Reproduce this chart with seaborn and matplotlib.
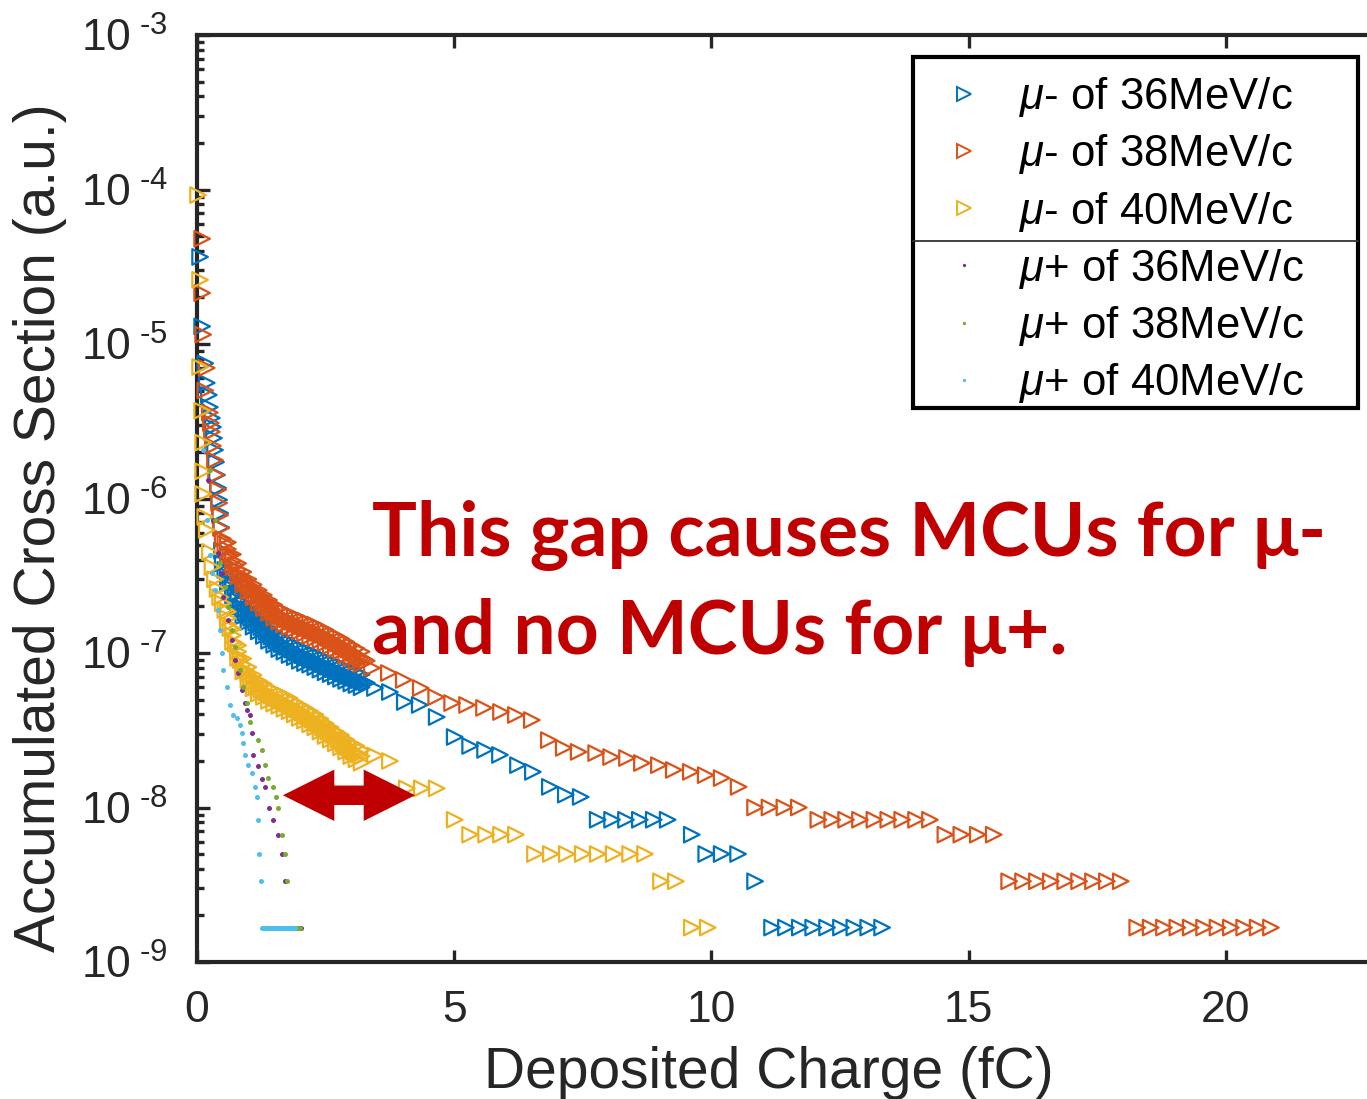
import numpy as np
import pandas as pd
import matplotlib
matplotlib.use("Agg")
import matplotlib.pyplot as plt
from matplotlib.lines import Line2D
from matplotlib.patches import Rectangle
from matplotlib.ticker import LogLocator, NullFormatter
import seaborn as sns

# ---------------- data ----------------
# mu- 36 MeV/c (blue)
mm36_x_near = [0.06, 0.10, 0.16, 0.19, 0.23, 0.25, 0.29, 0.31, 0.33, 0.35, 0.37, 0.39, 0.41, 0.43, 0.45, 0.47, 0.485]
mm36_y_near = [3.66e-5, 1.3e-5, 7.5e-6, 5.6e-6, 4.68e-6, 3.9e-6, 3.32e-6, 2.9e-6, 2.46e-6, 2.06e-6, 1.72e-6,
               1.42e-6, 1.17e-6, 9.8e-7, 8.05e-7, 6.5e-7, 4.6e-7]
mm36_x_dense = [0.50, 0.55, 0.60, 0.65, 0.70, 0.75, 0.80, 0.85, 0.90, 0.95, 1.00, 1.05, 1.10, 1.15, 1.20, 1.25,
                1.30, 1.35, 1.40, 1.45, 1.50, 1.55, 1.60, 1.65, 1.70, 1.75, 1.80, 1.85, 1.90, 1.95, 2.00, 2.05,
                2.10, 2.15, 2.20, 2.25, 2.30, 2.35, 2.40, 2.45, 2.50, 2.55, 2.60, 2.65, 2.70, 2.75, 2.80, 2.85,
                2.90, 2.95, 3.00, 3.05, 3.10, 3.15, 3.20, 3.25, 3.30]
mm36_y_dense = [3.8e-7, 3.45e-7, 3.15e-7, 2.85e-7, 2.6e-7, 2.38e-7, 2.18e-7, 2.0e-7, 1.9e-7, 1.82e-7, 1.75e-7,
                1.69e-7, 1.63e-7, 1.57e-7, 1.52e-7, 1.47e-7, 1.42e-7, 1.37e-7, 1.32e-7, 1.28e-7, 1.24e-7, 1.20e-7,
                1.17e-7, 1.14e-7, 1.12e-7, 1.095e-7, 1.07e-7, 1.05e-7, 1.03e-7, 1.0e-7, 9.8e-8, 9.65e-8, 9.5e-8,
                9.35e-8, 9.2e-8, 9.05e-8, 8.9e-8, 8.75e-8, 8.6e-8, 8.45e-8, 8.3e-8, 8.15e-8, 8.0e-8, 7.85e-8,
                7.75e-8, 7.6e-8, 7.5e-8, 7.35e-8, 7.25e-8, 7.1e-8, 7.0e-8, 6.9e-8, 6.8e-8, 6.7e-8, 6.6e-8,
                6.5e-8, 6.4e-8]
# upper / lower edge rows of the dense bands (x from 0.6 to 3.2)
band_x = [0.6, 0.7, 0.8, 0.9, 1.0, 1.1, 1.2, 1.3, 1.4, 1.5, 1.6, 1.7, 1.8, 1.9, 2.0, 2.1, 2.2, 2.3, 2.4,
          2.5, 2.6, 2.7, 2.8, 2.9, 3.0, 3.1, 3.2]
mm36_y_upper = [3.45e-7, 2.85e-7, 2.4e-7, 2.1e-7, 1.93e-7, 1.8e-7, 1.67e-7, 1.56e-7, 1.45e-7, 1.36e-7, 1.29e-7,
                1.23e-7, 1.18e-7, 1.13e-7, 1.08e-7, 1.05e-7, 1.01e-7, 9.8e-8, 9.5e-8, 9.1e-8, 8.8e-8, 8.5e-8,
                8.25e-8, 8.0e-8, 7.7e-8, 7.5e-8, 7.25e-8]
mm36_y_lower = [2.86e-7, 2.36e-7, 1.98e-7, 1.73e-7, 1.59e-7, 1.48e-7, 1.38e-7, 1.29e-7, 1.2e-7, 1.13e-7, 1.06e-7,
                1.02e-7, 9.7e-8, 9.4e-8, 8.9e-8, 8.6e-8, 8.4e-8, 8.1e-8, 7.8e-8, 7.5e-8, 7.3e-8, 7.05e-8, 6.8e-8,
                6.6e-8, 6.35e-8, 6.2e-8, 6.0e-8]
mm36_x_tail = [3.46, 3.75, 4.04, 4.33, 4.66, 5.01, 5.31, 5.60, 5.89, 6.24, 6.53, 6.86, 7.17, 7.46,
               7.79, 8.07, 8.34, 8.61, 8.88, 9.15, 9.62, 9.90, 10.20, 10.52, 10.85,
               11.18, 11.45, 11.72, 11.98, 12.25, 12.52, 12.78, 13.05, 13.32]
mm36_y_tail = ([5.93e-8, 5.59e-8, 4.82e-8, 4.61e-8, 3.85e-8, 2.86e-8, 2.5e-8, 2.36e-8, 2.19e-8, 1.88e-8,
                1.70e-8, 1.36e-8, 1.21e-8, 1.17e-8] + [8.33e-9] * 6 + [6.67e-9] + [5.0e-9] * 3 + [3.33e-9]
               + [1.67e-9] * 9)

# mu- 38 MeV/c (red)
mm38_x_near = [0.10, 0.10, 0.12, 0.19, 0.16, 0.25, 0.27, 0.29, 0.31, 0.35, 0.37, 0.41, 0.43, 0.45, 0.47]
mm38_y_near = [4.8e-5, 2.14e-5, 1.15e-5, 7.0e-6, 5.0e-6, 3.6e-6, 3.08e-6, 2.7e-6, 2.19e-6, 1.77e-6, 1.42e-6,
               1.14e-6, 9.35e-7, 7.8e-7, 6.44e-7]
mm38_x_dense = mm36_x_dense
mm38_y_dense = [5.5e-7, 5.1e-7, 4.7e-7, 4.3e-7, 3.95e-7, 3.7e-7, 3.45e-7, 3.2e-7, 3.05e-7, 2.9e-7, 2.75e-7,
                2.65e-7, 2.52e-7, 2.4e-7, 2.32e-7, 2.23e-7, 2.15e-7, 2.07e-7, 2.0e-7, 1.92e-7, 1.86e-7, 1.8e-7,
                1.76e-7, 1.72e-7, 1.68e-7, 1.65e-7, 1.62e-7, 1.59e-7, 1.57e-7, 1.54e-7, 1.52e-7, 1.49e-7,
                1.47e-7, 1.45e-7, 1.42e-7, 1.40e-7, 1.38e-7, 1.35e-7, 1.33e-7, 1.31e-7, 1.28e-7, 1.25e-7,
                1.22e-7, 1.2e-7, 1.17e-7, 1.15e-7, 1.13e-7, 1.1e-7, 1.07e-7, 1.05e-7, 1.02e-7, 1.0e-7, 9.7e-8,
                9.5e-8, 9.3e-8, 9.1e-8, 8.9e-8]
mm38_y_upper = [5.2e-7, 4.35e-7, 3.8e-7, 3.35e-7, 3.0e-7, 2.77e-7, 2.55e-7, 2.37e-7, 2.2e-7, 2.05e-7, 1.94e-7,
                1.85e-7, 1.78e-7, 1.73e-7, 1.67e-7, 1.62e-7, 1.56e-7, 1.52e-7, 1.46e-7, 1.41e-7, 1.34e-7,
                1.29e-7, 1.24e-7, 1.18e-7, 1.12e-7, 1.07e-7, 1.02e-7]
mm38_y_lower = [4.27e-7, 3.6e-7, 3.14e-7, 2.77e-7, 2.5e-7, 2.29e-7, 2.11e-7, 1.95e-7, 1.82e-7, 1.69e-7, 1.6e-7,
                1.53e-7, 1.47e-7, 1.43e-7, 1.38e-7, 1.34e-7, 1.29e-7, 1.25e-7, 1.21e-7, 1.16e-7, 1.11e-7,
                1.06e-7, 1.03e-7, 9.7e-8, 9.3e-8, 8.8e-8, 8.5e-8]
mm38_x_tail = [3.40, 3.73, 4.02, 4.35, 4.65, 4.96, 5.25, 5.58, 5.91, 6.20, 6.51, 6.84, 7.13, 7.42, 7.76,
               8.05, 8.36, 8.65, 8.98, 9.27, 9.60, 9.89, 10.20, 10.53,
               10.85, 11.13, 11.42, 11.70,
               12.08, 12.35, 12.62, 12.89, 13.17, 13.44, 13.71, 13.98, 14.25,
               14.55, 14.86, 15.18, 15.49,
               15.79, 16.06, 16.33, 16.60, 16.88, 17.15, 17.42, 17.69, 17.96,
               18.28, 18.54, 18.80, 19.06, 19.32, 19.58, 19.84, 20.10, 20.36, 20.62, 20.88]
mm38_y_tail = ([8.0e-8, 7.42e-8, 6.69e-8, 5.93e-8, 5.19e-8, 4.74e-8, 4.61e-8, 4.41e-8, 4.15e-8, 3.97e-8,
                3.68e-8, 2.73e-8, 2.43e-8, 2.29e-8, 2.25e-8, 2.12e-8, 2.09e-8, 1.94e-8, 1.88e-8, 1.75e-8,
                1.70e-8, 1.62e-8, 1.55e-8, 1.36e-8] + [1.0e-8] * 4 + [8.33e-9] * 9 + [6.67e-9] * 4
               + [3.33e-9] * 9 + [1.67e-9] * 11)

# mu- 40 MeV/c (yellow)
mm40_x_near = [0.02, 0.06, 0.06, 0.10, 0.12, 0.12, 0.12, 0.16, 0.19]
mm40_y_near = [9.2e-5, 2.6e-5, 7.1e-6, 3.7e-6, 2.3e-6, 1.5e-6, 1.07e-6, 7.6e-7, 6.25e-7]
mm40_x_dense = [0.25, 0.30, 0.35, 0.40, 0.45] + mm36_x_dense[:-2]
mm40_y_dense = [4.5e-7, 3.6e-7, 3.0e-7, 2.6e-7, 2.3e-7, 2.1e-7, 1.9e-7, 1.68e-7, 1.45e-7, 1.3e-7, 1.15e-7,
                1.02e-7, 9.0e-8, 8.4e-8, 7.7e-8, 7.4e-8, 6.8e-8, 6.5e-8, 6.2e-8, 6.0e-8, 5.8e-8, 5.7e-8,
                5.55e-8, 5.4e-8, 5.3e-8, 5.2e-8, 5.1e-8, 5.0e-8, 4.9e-8, 4.8e-8, 4.7e-8, 4.6e-8, 4.5e-8,
                4.4e-8, 4.3e-8, 4.2e-8, 4.1e-8, 4.0e-8, 3.9e-8, 3.8e-8, 3.7e-8, 3.6e-8, 3.5e-8, 3.4e-8,
                3.3e-8, 3.2e-8, 3.1e-8, 3.0e-8, 2.95e-8, 2.85e-8, 2.75e-8, 2.7e-8, 2.6e-8, 2.5e-8, 2.45e-8,
                2.35e-8, 2.3e-8, 2.25e-8, 2.2e-8, 2.15e-8]
mm40_y_upper = [1.85e-7, 1.43e-7, 1.12e-7, 9.2e-8, 8.1e-8, 7.2e-8, 6.6e-8, 6.3e-8, 5.9e-8, 5.7e-8, 5.5e-8,
                5.3e-8, 5.1e-8, 4.8e-8, 4.6e-8, 4.4e-8, 4.2e-8, 4.0e-8, 3.75e-8, 3.5e-8, 3.3e-8, 3.1e-8,
                2.95e-8, 2.75e-8, 2.6e-8, 2.5e-8, 2.35e-8]
mm40_y_lower = [1.53e-7, 1.18e-7, 9.3e-8, 7.6e-8, 6.7e-8, 5.9e-8, 5.45e-8, 5.2e-8, 4.9e-8, 4.7e-8, 4.55e-8,
                4.35e-8, 4.2e-8, 4.0e-8, 3.8e-8, 3.65e-8, 3.45e-8, 3.3e-8, 3.1e-8, 2.9e-8, 2.75e-8, 2.6e-8,
                2.45e-8, 2.3e-8, 2.15e-8, 2.05e-8, 1.95e-8]
mm40_x_tail = [3.46, 3.75, 4.08, 4.37, 4.66, 5.01, 5.31, 5.62, 5.91, 6.20, 6.57, 6.88, 7.19, 7.50, 7.79,
               8.10, 8.42, 8.71, 9.02, 9.31, 9.62, 9.93]
mm40_y_tail = ([2.17e-8, 2.0e-8] + [1.33e-8] * 3 + [8.33e-9] + [6.67e-9] * 4 + [5.0e-9] * 8
               + [3.33e-9] * 2 + [1.67e-9] * 2)

# mu+ 36 MeV/c (purple)
mp36_x = [0.21, 0.31, 0.41, 0.49, 0.51, 0.60, 0.68, 0.74, 0.80, 0.87, 0.93, 0.97, 1.03, 1.07, 1.09, 1.19,
          1.26, 1.32, 1.40, 1.48, 1.57, 1.65, 1.71, 1.87, 1.90, 1.93, 1.96, 1.99, 2.02]
mp36_y = ([1.32e-6, 7.26e-7, 4.44e-7, 3.30e-7, 2.30e-7, 1.64e-7, 1.21e-7, 9.0e-8, 7.42e-8, 5.76e-8, 4.74e-8,
           4.28e-8, 3.97e-8, 3.03e-8, 2.19e-8, 1.86e-8, 1.53e-8, 1.36e-8, 1.0e-8, 8.33e-9, 6.67e-9, 5.0e-9,
           3.33e-9] + [1.67e-9] * 6)
# mu+ 38 MeV/c (green)
mp38_x = [0.25, 0.35, 0.45, 0.54, 0.60, 0.68, 0.74, 0.84, 0.89, 0.97, 1.03, 1.19, 1.26, 1.32, 1.38, 1.48,
          1.54, 1.57, 1.65, 1.71, 1.75, 1.81, 1.85, 1.89, 1.93, 1.97, 2.01]
mp38_y = ([1.53e-6, 7.26e-7, 3.83e-7, 2.67e-7, 1.99e-7, 1.41e-7, 1.09e-7, 7.76e-8, 6.03e-8, 4.74e-8, 3.58e-8,
           2.73e-8, 2.36e-8, 1.88e-8, 1.55e-8, 1.36e-8, 1.17e-8, 1.0e-8, 6.67e-9, 5.0e-9, 3.33e-9]
          + [1.67e-9] * 6)
# mu+ 40 MeV/c (light blue)
mp40_x = [0.12, 0.19, 0.25, 0.29, 0.35, 0.41, 0.45, 0.49, 0.51, 0.58, 0.64, 0.70, 0.78, 0.84, 0.87, 0.89,
          0.93, 0.99, 1.07, 1.13, 1.17, 1.19, 1.21, 1.24,
          1.27, 1.30, 1.33, 1.36, 1.39, 1.42, 1.45, 1.48, 1.51, 1.54, 1.57, 1.60, 1.63, 1.66, 1.69, 1.72,
          1.75, 1.78, 1.81, 1.84, 1.87, 1.90]
mp40_y = ([2.06e-6, 7.26e-7, 4.31e-7, 3.30e-7, 2.56e-7, 1.90e-7, 1.41e-7, 1.0e-7, 7.76e-8, 6.03e-8, 4.61e-8,
           3.97e-8, 3.80e-8, 3.42e-8, 3.03e-8, 2.61e-8, 2.19e-8, 1.88e-8, 1.67e-8, 1.36e-8, 1.17e-8, 8.33e-9,
           5.0e-9, 3.33e-9] + [1.67e-9] * 22)

labels = ["$\\mu$- of 36MeV/c", "$\\mu$- of 38MeV/c", "$\\mu$- of 40MeV/c",
          "$\\mu$+ of 36MeV/c", "$\\mu$+ of 38MeV/c", "$\\mu$+ of 40MeV/c"]
colors = ["#0072BD", "#D95319", "#EDB120", "#7E2F8E", "#77AC30", "#4DBEEE"]
xticks = [0, 5, 10, 15, 20]
yticks = [1e-9, 1e-8, 1e-7, 1e-6, 1e-5, 1e-4, 1e-3]
ytick_labels = ["$\\mathregular{10^{\\ \\text{-}%d}}$" % k for k in range(9, 2, -1)]
annot_lines = ["This gap causes MCUs for \u03bc-", "and no MCUs for \u03bc+."]
arrow_left, arrow_mid, arrow_right, arrow_y = 1.67, 2.955, 4.24, 1.2e-8

# ---------------- style ----------------
sns.set_style("ticks")
plt.rcParams["font.family"] = ["Liberation Sans", "DejaVu Sans"]
plt.rcParams["mathtext.fontset"] = "custom"
plt.rcParams["mathtext.rm"] = "Liberation Sans"
plt.rcParams["mathtext.it"] = "Liberation Sans:italic"
plt.rcParams["mathtext.bf"] = "Liberation Sans:bold"

W, H = 1367, 1099
fig = plt.figure(figsize=(W / 100, H / 100), dpi=100)
fig.patch.set_facecolor("white")
ax = fig.add_axes([197 / W, 1 - 962 / H, (1380 - 197) / W, (962 - 35) / H])
ax.set_facecolor("white")

mu_minus = [
    (mm36_x_near + mm36_x_dense + band_x + band_x + mm36_x_tail,
     mm36_y_near + mm36_y_dense + mm36_y_upper + mm36_y_lower + mm36_y_tail, colors[0]),
    (mm38_x_near + mm38_x_dense + band_x + band_x + mm38_x_tail,
     mm38_y_near + mm38_y_dense + mm38_y_upper + mm38_y_lower + mm38_y_tail, colors[1]),
    (mm40_x_near + mm40_x_dense + band_x + band_x + mm40_x_tail,
     mm40_y_near + mm40_y_dense + mm40_y_upper + mm40_y_lower + mm40_y_tail, colors[2]),
]
for xs, ys, c in mu_minus:
    sns.scatterplot(x=xs, y=ys, ax=ax, marker=">", s=125, color=c, facecolor="none", edgecolor=c,
                    linewidth=1.6, legend=False, clip_on=False, zorder=3)

mu_plus = [(mp36_x, mp36_y, colors[3]), (mp38_x, mp38_y, colors[4]), (mp40_x, mp40_y, colors[5])]
for xs, ys, c in mu_plus:
    sns.scatterplot(x=xs, y=ys, ax=ax, marker="o", s=13, color=c, edgecolor=c, linewidth=0,
                    legend=False, clip_on=False, zorder=4)

ax.set_yscale("log")
ax.set_xlim(0, 23)
ax.set_ylim(1e-9, 1e-3)
ax.set_xticks(xticks)
ax.set_xticklabels([str(t) for t in xticks])
ax.set_yticks(yticks)
ax.set_yticklabels(ytick_labels)
ax.yaxis.set_minor_locator(LogLocator(base=10, subs=np.arange(2, 10), numticks=20))
ax.yaxis.set_minor_formatter(NullFormatter())
ax.xaxis.set_minor_locator(plt.NullLocator())

axis_color = "#262626"
for sp in ax.spines.values():
    sp.set_linewidth(3)
    sp.set_color(axis_color)
ax.tick_params(which="both", direction="in", top=True, right=True, color=axis_color, width=2.4)
ax.tick_params(which="major", length=9)
ax.tick_params(which="minor", length=5)
ax.tick_params(axis="x", which="major", labelsize=32, pad=20, labelcolor="#262626")
ax.tick_params(axis="y", which="major", labelsize=32, pad=21, labelcolor="#262626")

ax.set_xlabel("Deposited Charge (fC)", fontsize=41, color="#262626")
ax.set_ylabel("Accumulated Cross Section (a.u.)", fontsize=41, color="#262626")
ax.xaxis.set_label_coords((769 - 197) / (1380 - 197), -0.091)
ax.yaxis.set_label_coords((67 - 197) / (1380 - 197), 0.468)

# legend (frame drawn separately so that the padding matches)
handles = []
for i, c in enumerate(colors):
    if i < 3:
        handles.append(Line2D([], [], ls="", marker=">", ms=9.5, mfc="none", mec=c, mew=1.4))
    else:
        handles.append(Line2D([], [], ls="", marker="o", ms=2.4, mfc=c, mec=c, mew=0))
leg = ax.legend(handles, labels, loc="upper left", mode="expand",
                bbox_to_anchor=(913 / W, 1 - 408 / H, 445 / W, (408 - 57) / H),
                bbox_transform=fig.transFigure, fontsize=31.5, frameon=False,
                borderpad=0.42, labelspacing=0.30,
                handlelength=1.5, handletextpad=0.5, borderaxespad=0)
for t in leg.get_texts():
    t.set_color("black")
fig.add_artist(Rectangle((913 / W, 1 - 408 / H), 445 / W, (408 - 57) / H, transform=fig.transFigure,
                         fill=False, edgecolor="black", lw=3, zorder=10))
fig.add_artist(Line2D([913 / W, 1358 / W], [1 - 241 / H, 1 - 241 / H], transform=fig.transFigure,
                      color="#333333", lw=1.3, zorder=10))

# double-headed arrow
arrow_kw = dict(arrowstyle="simple,head_length=37,head_width=37,tail_width=14", mutation_scale=1,
                color="#C00000", lw=0, shrinkA=0, shrinkB=0)
ax.annotate("", xy=(arrow_left, arrow_y), xytext=(arrow_mid, arrow_y), arrowprops=arrow_kw)
ax.annotate("", xy=(arrow_right, arrow_y), xytext=(arrow_mid, arrow_y), arrowprops=arrow_kw)

# annotation text
for line, base in zip(annot_lines, [556, 654]):
    fig.text(372 / W, 1 - base / H, line, fontsize=54, fontweight="bold", color="#C00000",
             family=["Lato", "DejaVu Sans"], ha="left", va="baseline")

fig.savefig("out.png", dpi=100, facecolor="white")
